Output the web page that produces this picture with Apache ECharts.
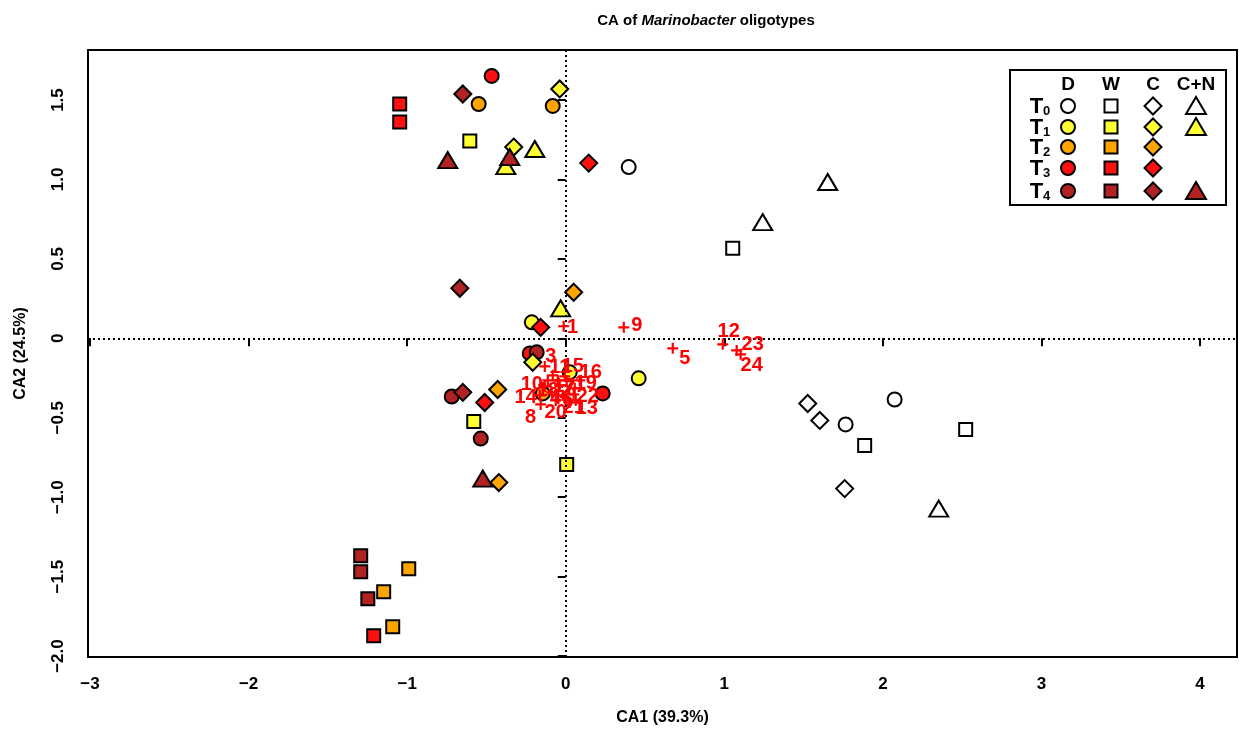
<!DOCTYPE html>
<html>
<head>
<meta charset="utf-8">
<title>CA of Marinobacter oligotypes</title>
<script src="https://cdn.jsdelivr.net/npm/echarts@6/dist/echarts.min.js"></script>
<style>
  html, body { margin: 0; padding: 0; background: #fff; }
  #chart { width: 1239px; height: 731px; }
</style>
</head>
<body>
<div id="chart"></div>
<script>
// sample scores [CA1, CA2], three replicates for every time x treatment
const times = ['T0', 'T1', 'T2', 'T3', 'T4'];
const treatments = ['D', 'W', 'C', 'C+N'];

const t0D = [[0.397, 1.078], [1.765, -0.542], [2.074, -0.385]];
const t1D = [[-0.214, 0.101], [0.460, -0.252], [0.025, -0.214]];
const t2D = [[-0.549, 1.475], [-0.082, 1.463], [-0.145, -0.347]];
const t3D = [[-0.467, 1.652], [0.233, -0.347], [-0.227, -0.095]];
const t4D = [[-0.719, -0.366], [-0.536, -0.631], [-0.183, -0.088]];

const t0W = [[1.053, 0.567], [1.885, -0.675], [2.522, -0.574]];
const t1W = [[-0.605, 1.242], [-0.580, -0.523], [0.006, -0.794]];
const t2W = [[-0.990, -1.450], [-1.148, -1.595], [-1.091, -1.816]];
const t3W = [[-1.047, 1.475], [-1.047, 1.362], [-1.211, -1.873]];
const t4W = [[-1.293, -1.368], [-1.293, -1.469], [-1.248, -1.639]];

const t0C = [[1.526, -0.410], [1.602, -0.517], [1.759, -0.946]];
const t1C = [[-0.038, 1.570], [-0.328, 1.204], [-0.208, -0.151]];
const t2C = [[0.050, 0.290], [-0.429, -0.322], [-0.422, -0.908]];
const t3C = [[0.145, 1.103], [-0.158, 0.069], [-0.511, -0.404]];
const t4C = [[-0.649, 1.538], [-0.668, 0.315], [-0.649, -0.340]];

const t0CN = [[1.652, 0.984], [1.242, 0.731], [2.352, -1.072]];
const t1CN = [[-0.195, 1.192], [-0.378, 1.084], [-0.032, 0.189]];
const t4CN = [[-0.744, 1.122], [-0.353, 1.141], [-0.523, -0.883]];

// oligotype scores
const oligoIds = [1, 2, 3, 4, 5, 6, 7, 8, 9, 10, 11, 12, 13, 14, 15, 16, 17, 18, 19, 20, 21, 22, 23, 24];
const oligoX = [-0.013, -0.038, -0.132, -0.088, 0.675, -0.019, 0.006, -0.158, 0.366, -0.132,
  -0.082, 0.990, 0.063, -0.164, -0.006, 0.088, -0.050, -0.113, 0.057, -0.063, 0.025, 0.050, 1.078, 1.103];
const oligoY = [0.076, -0.296, -0.177, -0.340, -0.063, -0.359, -0.265, -0.416, 0.069, -0.303,
  -0.233, -0.038, -0.391, -0.359, -0.240, -0.265, -0.265, -0.265, -0.315, -0.391, -0.404, -0.353, -0.076, -0.101];

const xTicks = [-3, -2, -1, 0, 1, 2, 3, 4];
const yTicks = [-2, -1.5, -1, -0.5, 0, 0.5, 1, 1.5];

const font = "'Liberation Sans', Arial, Helvetica, sans-serif";
const timeColors = ['rgba(255,255,255,0)', '#FFFF33', '#FFA500', '#FF1010', '#B22222'];
const red = '#FF0000';

const groups = [
  { treatment: 'D', symbol: 'circle', size: 14, byTime: [t0D, t1D, t2D, t3D, t4D] },
  { treatment: 'W', symbol: 'rect', size: 13, byTime: [t0W, t1W, t2W, t3W, t4W] },
  { treatment: 'C', symbol: 'diamond', size: 17, byTime: [t0C, t1C, t2C, t3C, t4C] },
  { treatment: 'C+N', symbol: 'triangle', size: [19, 16], byTime: [t0CN, t1CN, null, null, t4CN] },
];

// label offsets (px) from each oligotype mark
const labelOffsets = {
  1: [9, 1], 2: [5, 7], 3: [6, -10], 4: [4, 6], 5: [12, 10], 6: [5, 5], 7: [3, 8], 8: [-10, 13],
  9: [13, -2], 10: [-13, -2], 11: [7, -8], 12: [6, -13], 13: [11, 8], 14: [-14, 2], 15: [8, -10],
  16: [11, -8], 17: [6, 6], 18: [0, 10], 19: [11, -5], 20: [0, 12], 21: [4, 5], 22: [14, 2],
  23: [16, -6], 24: [11, 11],
};

const plusPath = 'path://M4,0H6V4H10V6H6V10H4V6H0V4H4Z';

function fmt(v, digits) {
  if (v === 0) return '0';
  const s = Math.abs(v).toFixed(digits);
  return v < 0 ? '\u2212' + s : s;
}

const series = [];

// dotted zero lines
series.push({
  type: 'scatter',
  data: [],
  silent: true,
  markLine: {
    silent: true,
    symbol: ['none', 'none'],
    label: { show: false },
    animation: false,
    lineStyle: { color: '#000', width: 2, type: [2, 3] },
    data: [{ xAxis: 0 }, { yAxis: 0 }],
  },
});

groups.forEach((g) => {
  g.byTime.forEach((pts, ti) => {
    if (!pts) return;
    series.push({
      name: times[ti] + ' ' + g.treatment,
      type: 'scatter',
      symbol: g.symbol,
      symbolSize: g.size,
      data: pts,
      itemStyle: {
        color: timeColors[ti],
        borderColor: '#000',
        borderWidth: 2,
        opacity: 1,
      },
      emphasis: { disabled: true },
    });
  });
});

series.push({
  name: 'oligotypes',
  type: 'scatter',
  symbol: plusPath,
  symbolSize: 11,
  z: 5,
  itemStyle: { color: red, opacity: 1 },
  label: {
    show: true,
    position: 'inside',
    align: 'center',
    verticalAlign: 'middle',
    color: red,
    textBorderWidth: 0,
    fontFamily: font,
    fontWeight: 'bold',
    fontSize: 20,
    formatter: (p) => p.name,
  },
  labelLayout: (p) => {
    const o = labelOffsets[oligoIds[p.dataIndex]];
    return { dx: o[0], dy: o[1], fontSize: 20, hideOverlap: false };
  },
  emphasis: { disabled: true },
  data: oligoIds.map((id, i) => ({
    name: String(id),
    value: [oligoX[i], oligoY[i]],
  })),
});

// legend drawn as a small matrix
const legendLeft = 1010, legendTop = 70;
const colX = [1068, 1111, 1153, 1196];
const rowY = [106, 127, 147, 168, 191];
const legendEls = [
  {
    type: 'rect',
    shape: { x: legendLeft, y: legendTop, width: 216, height: 135 },
    style: { fill: '#fff', stroke: '#000', lineWidth: 2 },
  },
];
treatments.forEach((t, i) => {
  legendEls.push({
    type: 'text',
    x: colX[i], y: 85,
    style: { text: t, font: 'bold 19px ' + font, fill: '#000', align: 'center', verticalAlign: 'middle' },
  });
});
times.forEach((t, ti) => {
  legendEls.push({
    type: 'text',
    x: 1040, y: rowY[ti] + 1,
    style: {
      text: '{t|T}{s|' + t.slice(1) + '}',
      align: 'center', verticalAlign: 'middle',
      rich: {
        t: { fontFamily: font, fontWeight: 'bold', fontSize: 22, fill: '#000', verticalAlign: 'bottom' },
        s: { fontFamily: font, fontWeight: 'bold', fontSize: 13, fill: '#000', verticalAlign: 'bottom' },
      },
    },
  });
  const fill = ti === 0 ? '#fff' : timeColors[ti];
  const st = { fill, stroke: '#000', lineWidth: 2 };
  const y = rowY[ti];
  groups.forEach((g, gi) => {
    if (!g.byTime[ti]) return;
    const x = colX[gi];
    if (g.symbol === 'circle') {
      legendEls.push({ type: 'circle', shape: { cx: x, cy: y, r: 7 }, style: st });
    } else if (g.symbol === 'rect') {
      legendEls.push({ type: 'rect', shape: { x: x - 6.5, y: y - 6.5, width: 13, height: 13 }, style: st });
    } else if (g.symbol === 'diamond') {
      legendEls.push({ type: 'polygon', shape: { points: [[x, y - 8.5], [x + 8.5, y], [x, y + 8.5], [x - 8.5, y]] }, style: st });
    } else {
      legendEls.push({ type: 'polygon', shape: { points: [[x, y - 9], [x + 10, y + 8], [x - 10, y + 8]] }, style: st });
    }
  });
});

const chart = echarts.init(document.getElementById('chart'));
chart.setOption({
  animation: false,
  textStyle: { fontFamily: font },
  title: {
    text: '{b|CA of }{i|Marinobacter}{b| oligotypes}',
    left: 701,
    top: 8,
    textAlign: 'center',
    textStyle: {
      rich: {
        b: { fontFamily: font, fontWeight: 'bold', fontSize: 15, color: '#000' },
        i: { fontFamily: font, fontWeight: 'bold', fontStyle: 'italic', fontSize: 15, color: '#000' },
      },
    },
  },
  grid: {
    left: 88, right: 2, top: 50, bottom: 74,
    show: true,
    borderColor: '#000',
    borderWidth: 2,
    backgroundColor: 'rgba(0,0,0,0)',
  },
  xAxis: {
    type: 'value',
    min: -3.0126,
    max: 4.233,
    splitLine: { show: false },
    axisLine: { show: false },
    axisTick: { show: true, length: 8, lineStyle: { color: '#000', width: 2 }, customValues: xTicks },
    axisLabel: {
      customValues: xTicks,
      formatter: (v) => fmt(v, 0),
      color: '#000', fontFamily: font, fontWeight: 'bold', fontSize: 17, margin: 19,
    },
    name: 'CA1 (39.3%)',
    nameLocation: 'middle',
    nameGap: 53,
    nameTextStyle: { color: '#000', fontFamily: font, fontWeight: 'bold', fontSize: 16 },
  },
  yAxis: {
    type: 'value',
    min: -2.006,
    max: 1.815,
    splitLine: { show: false },
    axisLine: { show: false },
    axisTick: { show: true, length: 8, lineStyle: { color: '#000', width: 2 }, customValues: yTicks },
    axisLabel: {
      customValues: yTicks,
      rotate: 90,
      formatter: (v) => fmt(v, 1),
      color: '#000', fontFamily: font, fontWeight: 'bold', fontSize: 17, margin: 21,
    },
    name: 'CA2 (24.5%)',
    nameLocation: 'middle',
    nameGap: 59,
    nameRotate: 90,
    nameTextStyle: { color: '#000', fontFamily: font, fontWeight: 'bold', fontSize: 16 },
  },
  graphic: { elements: legendEls },
  series,
});

window.addEventListener('resize', () => chart.resize());
</script>
</body>
</html>
